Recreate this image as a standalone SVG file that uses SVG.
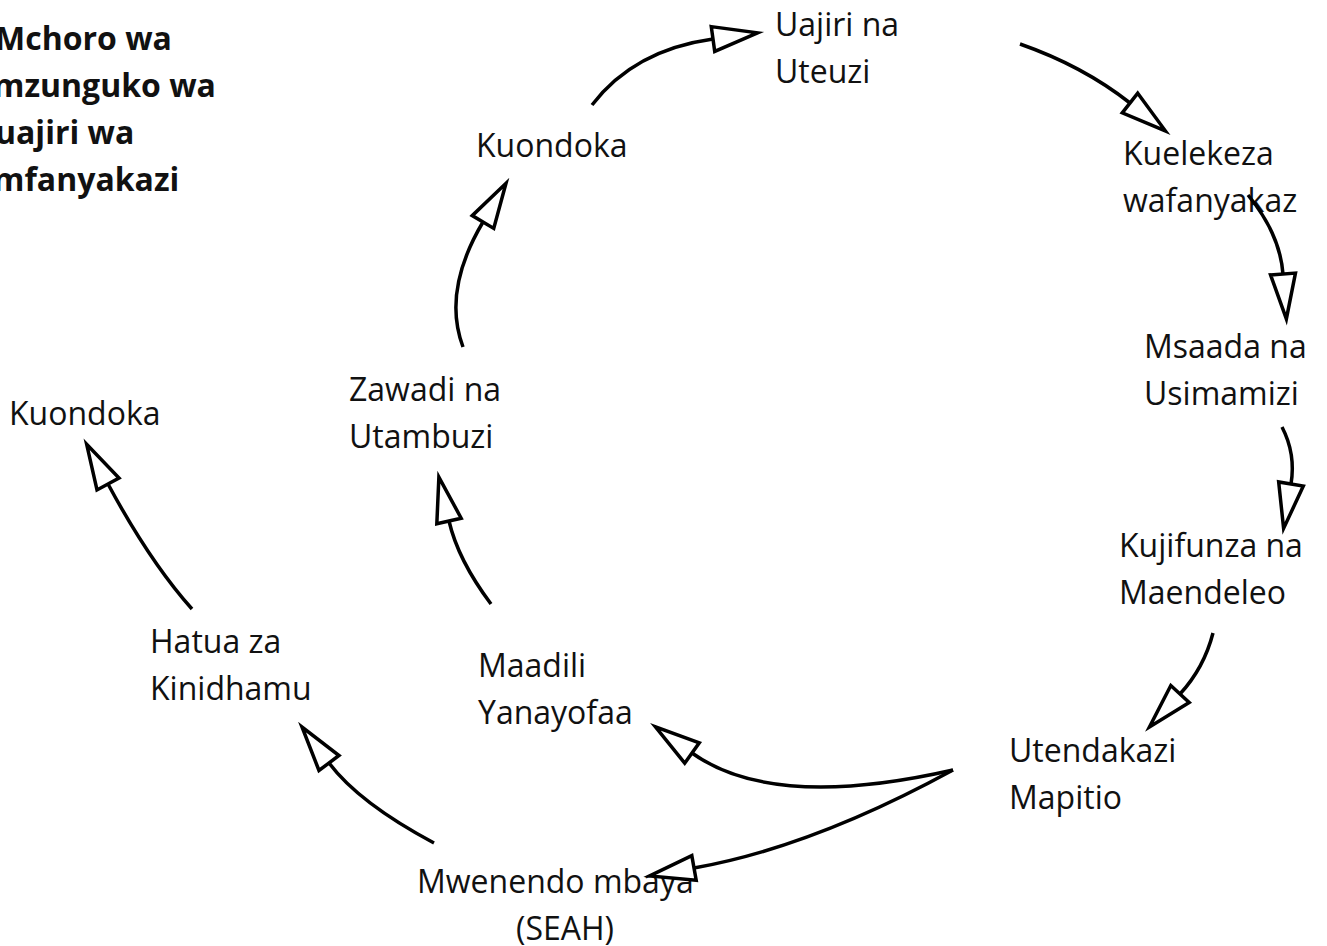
<svg xmlns="http://www.w3.org/2000/svg" width="1327" height="946" viewBox="0 0 1327 946">
<style>
text{font-family:"Open Sans","Noto Sans","Liberation Sans",sans-serif;font-size:32px;fill:#111}
.title{font-weight:bold}
.c{fill:none;stroke:#000;stroke-width:3.5;marker-end:url(#ah)}
</style>
<defs>
<marker id="ah" markerUnits="userSpaceOnUse" markerWidth="52" markerHeight="32" refX="2" refY="14.5" orient="auto" overflow="visible">
<path d="M2,2 L47,14.5 L2,27 Z" fill="#fff" stroke="#000" stroke-width="3.5" stroke-linejoin="miter"/>
</marker>
</defs>
<rect width="1327" height="946" fill="#fff"/>
<g id="title"><text class="title" x="-5" y="50">Mchoro wa</text><text class="title" x="-7" y="97">mzunguko wa</text><text class="title" x="-5" y="144">uajiri wa</text><text class="title" x="-7" y="191">mfanyakazi</text></g>
<g id="uajiri"><text x="775" y="36">Uajiri na</text><text x="775" y="83">Uteuzi</text></g>
<g id="kuondoka1"><text x="476" y="157">Kuondoka</text></g>
<g id="kuelekeza"><text x="1123" y="165">Kuelekeza</text><text x="1123" y="212">wafanyakaz</text></g>
<g id="msaada"><text x="1144" y="358">Msaada na</text><text x="1144" y="405">Usimamizi</text></g>
<g id="kujifunza"><text x="1119" y="557">Kujifunza na</text><text x="1119" y="604">Maendeleo</text></g>
<g id="utendakazi"><text x="1009" y="762">Utendakazi</text><text x="1009" y="809">Mapitio</text></g>
<g id="maadili"><text x="478" y="677">Maadili</text><text x="478" y="724">Yanayofaa</text></g>
<g id="mwenendo"><text x="417" y="893">Mwenendo mbaya</text><text x="516" y="940">(SEAH)</text></g>
<g id="hatua"><text x="150" y="653">Hatua za</text><text x="150" y="700">Kinidhamu</text></g>
<g id="zawadi"><text x="349" y="401">Zawadi na</text><text x="349" y="448">Utambuzi</text></g>
<g id="kuondoka2"><text x="9" y="425">Kuondoka</text></g>
<g id="connectors">
<path class="c" d="M592,105 Q634,50 713,39"/>
<path class="c" d="M1020,44 Q1083,66 1130,103"/>
<path class="c" d="M1248,195 Q1280,234 1283,274"/>
<path class="c" d="M1282,427 Q1296,454 1291,484"/>
<path class="c" d="M1213,633 Q1204,668 1180,694"/>
<path class="c" d="M953,770 Q773,811 692,753"/>
<path class="c" d="M953,770 Q812,847 694,868"/>
<path class="c" d="M434,843 Q359,803 329,763"/>
<path class="c" d="M192,609 Q150,562 108,484"/>
<path class="c" d="M491,604 Q458,560 449,521"/>
<path class="c" d="M463,347 Q442,291 483,222"/>
</g>
</svg>
